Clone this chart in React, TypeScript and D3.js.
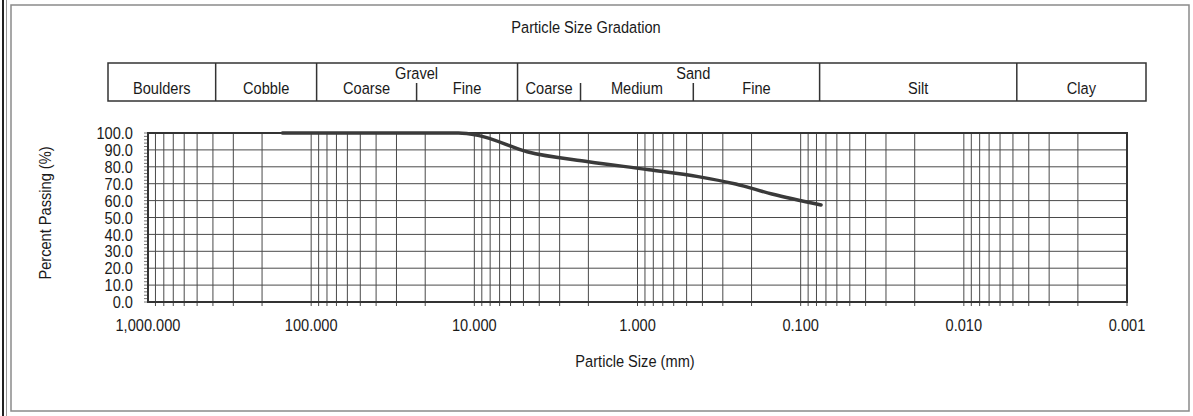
import React, { useRef, useEffect } from 'react';
import * as d3 from 'd3';

// sieve results (mm, % passing)
const sieveSizes = [150, 75, 50, 37.5, 25, 19, 12.5, 9.5, 4.75, 2.0, 0.85, 0.425, 0.25, 0.15, 0.075];
const percentPassing = [100, 100, 100, 100, 100, 100, 100, 98.6, 88.9, 83.0, 78.3, 74.2, 69.8, 63.9, 57.4];

// axis ticks
const xTicks = [1000, 100, 10, 1, 0.1, 0.01, 0.001];
const yTicks = [0, 10, 20, 30, 40, 50, 60, 70, 80, 90, 100];

// soil classification band (boundaries in mm)
const mainBoundaries = [300, 75, 4.75, 0.075, 0.005];
const subBoundaries = [19, 2.0, 0.425];
const bandLabels = [
  { text: 'Boulders', from: null, to: 300 },
  { text: 'Cobble', from: 300, to: 75 },
  { text: 'Coarse', from: 75, to: 19 },
  { text: 'Fine', from: 19, to: 4.75 },
  { text: 'Coarse', from: 4.75, to: 2.0 },
  { text: 'Medium', from: 2.0, to: 0.425 },
  { text: 'Fine', from: 0.425, to: 0.075 },
  { text: 'Silt', from: 0.075, to: 0.005 },
  { text: 'Clay', from: 0.005, to: null },
];
const groupLabels = [
  { text: 'Gravel', at: 19 },
  { text: 'Sand', at: 0.425 },
];

const TITLE = 'Particle Size Gradation';
const X_TITLE = 'Particle Size (mm)';
const Y_TITLE = 'Percent Passing (%)';

const W = 1193;
const H = 416;
const FONT = "'Liberation Sans', Arial, sans-serif";
const FS = 17;
const SQUEEZE = 0.86; // the source uses a narrow face
const INK = '#1a1a1a';

type Sel = d3.Selection<any, unknown, null, undefined>;

// narrow text: placed with a transform, squeezed horizontally
function narrowText(parent: Sel, x: number, y: number, text: string, anchor = 'middle', rotate = 0, dy = '0') {
  parent.append('text')
    .attr('transform', `translate(${x},${y}) rotate(${rotate}) scale(${SQUEEZE},1)`)
    .attr('dy', dy)
    .attr('text-anchor', anchor)
    .attr('font-family', FONT)
    .attr('font-size', FS)
    .attr('fill', INK)
    .text(text);
}

const GradationChart: React.FC = () => {
  const svgRef = useRef<SVGSVGElement>(null);

  useEffect(() => {
    if (!svgRef.current) return;
    const svg = d3.select(svgRef.current) as unknown as Sel;
    svg.selectAll('*').remove();

    const margin = { top: 133, right: 66, bottom: 114, left: 148 };
    const innerWidth = W - margin.left - margin.right;
    const innerHeight = H - margin.top - margin.bottom;

    const x = d3.scaleLog().domain([1000, 0.001]).range([0, innerWidth]);
    const y = d3.scaleLinear().domain([0, 100]).range([innerHeight, 0]);

    // outer page frame
    svg.append('line')
      .attr('x1', 3).attr('x2', 3).attr('y1', 0).attr('y2', H)
      .attr('stroke', '#222').attr('stroke-width', 2);
    svg.append('line')
      .attr('x1', 6.5).attr('x2', 6.5).attr('y1', 0).attr('y2', H)
      .attr('stroke', '#999').attr('stroke-width', 1);
    svg.append('rect')
      .attr('x', 11).attr('y', 5).attr('width', 1178).attr('height', 406)
      .attr('fill', 'none').attr('stroke', '#8a8a8a').attr('stroke-width', 1.5);

    // title
    narrowText(svg, 586, 33, TITLE);

    // classification band
    const hx = d3.scaleLog().domain([1000, 0.001]).range([128, 1134]);
    const bandLeft = hx(1000) - 20;
    const bandRight = hx(0.001) + 12;
    const bandTop = 63;
    const bandBottom = 101;
    const band = svg.append('g') as Sel;
    band.append('rect')
      .attr('x', bandLeft).attr('y', bandTop)
      .attr('width', bandRight - bandLeft).attr('height', bandBottom - bandTop)
      .attr('fill', 'none').attr('stroke', '#333').attr('stroke-width', 1.5);
    mainBoundaries.forEach(d => {
      band.append('line')
        .attr('x1', hx(d)).attr('x2', hx(d))
        .attr('y1', bandTop).attr('y2', bandBottom)
        .attr('stroke', '#333').attr('stroke-width', 1.5);
    });
    subBoundaries.forEach(d => {
      band.append('line')
        .attr('x1', hx(d)).attr('x2', hx(d))
        .attr('y1', 83).attr('y2', bandBottom)
        .attr('stroke', '#333').attr('stroke-width', 1.5);
    });
    bandLabels.forEach(l => {
      const x0 = l.from === null ? bandLeft : hx(l.from);
      const x1 = l.to === null ? bandRight : hx(l.to);
      narrowText(band, (x0 + x1) / 2, 94, l.text);
    });
    groupLabels.forEach(l => {
      narrowText(band, hx(l.at), 79, l.text);
    });

    const g = svg.append('g')
      .attr('transform', `translate(${margin.left},${margin.top})`) as Sel;

    // log grid: 1..9 in every decade
    const gridX: number[] = [];
    for (let e = 2; e >= -3; e--) {
      for (let k = 9; k >= 1; k--) gridX.push(k * Math.pow(10, e));
    }
    g.selectAll('.vgrid')
      .data(gridX)
      .join('line')
      .attr('x1', d => x(d)).attr('x2', d => x(d))
      .attr('y1', 0).attr('y2', innerHeight + 4)
      .attr('stroke', '#4a4a4a').attr('stroke-width', 1);

    g.selectAll('.hgrid')
      .data(yTicks.slice(1, -1))
      .join('line')
      .attr('x1', 0).attr('x2', innerWidth)
      .attr('y1', d => y(d)).attr('y2', d => y(d))
      .attr('stroke', '#4a4a4a').attr('stroke-width', 1);

    // minor y ticks
    g.selectAll('.ymin')
      .data(d3.range(0, 101, 2))
      .join('line')
      .attr('x1', -4).attr('x2', 0)
      .attr('y1', d => y(d)).attr('y2', d => y(d))
      .attr('stroke', '#555').attr('stroke-width', 0.8);

    // plot border
    g.append('rect')
      .attr('x', 0).attr('y', 0)
      .attr('width', innerWidth).attr('height', innerHeight)
      .attr('fill', 'none').attr('stroke', '#333').attr('stroke-width', 2);

    // gradation curve
    const pts = sieveSizes.map((s, i) => ({ size: s, pct: percentPassing[i] }));
    const line = d3.line<{ size: number; pct: number }>()
      .x(d => x(d.size))
      .y(d => y(d.pct))
      .curve(d3.curveMonotoneX);
    g.append('path')
      .datum(pts)
      .attr('fill', 'none')
      .attr('stroke', '#3a3a3a')
      .attr('stroke-width', 3.5)
      .attr('stroke-linecap', 'round')
      .attr('stroke-linejoin', 'round')
      .attr('d', line);

    // tick labels
    yTicks.forEach(d => narrowText(g, -15, y(d), d3.format('.1f')(d), 'end', 0, '0.36em'));
    xTicks.forEach(d => narrowText(g, x(d), innerHeight + 29, d3.format(',.3f')(d)));

    // axis titles
    narrowText(g, 487, innerHeight + 65, X_TITLE);
    narrowText(svg, 51, 213, Y_TITLE, 'middle', -90);
  }, []);

  return (
    <svg
      ref={svgRef}
      width={W}
      height={H}
      style={{ position: 'absolute', left: 0, top: 0, background: '#fff' }}
    />
  );
};

export default function App() {
  return <GradationChart />;
}
